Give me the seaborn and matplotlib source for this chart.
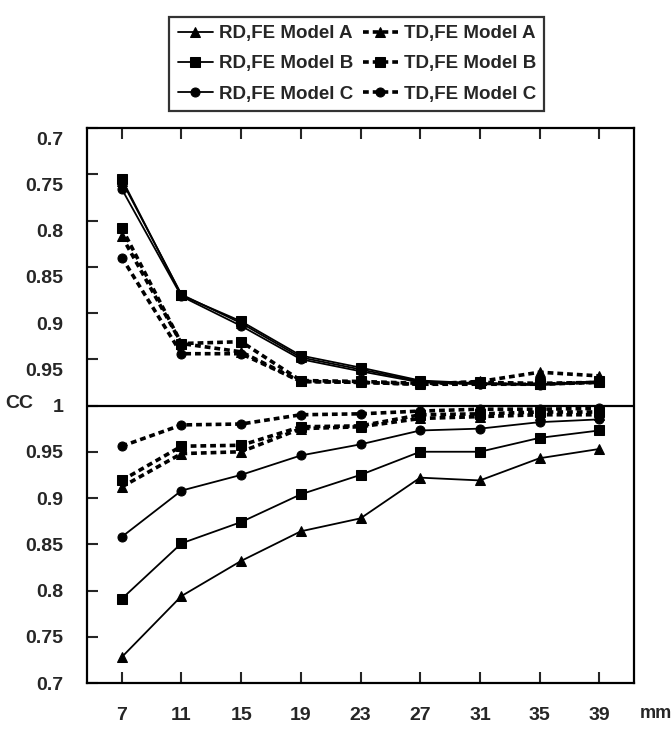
import numpy as np
import matplotlib
matplotlib.use('Agg')
import matplotlib.pyplot as plt
import matplotlib.transforms as mtransforms
import seaborn as sns

# x positions (mm)
mm = [7, 11, 15, 19, 23, 27, 31, 35, 39]

# upper panel (axis runs 0.7 at the top down to 1 at the middle)
rd_a_up = [0.757, 0.880, 0.911, 0.948, 0.961, 0.974, 0.976, 0.977, 0.974]
rd_b_up = [0.755, 0.881, 0.909, 0.946, 0.959, 0.973, 0.976, 0.977, 0.974]
rd_c_up = [0.766, 0.882, 0.914, 0.950, 0.963, 0.975, 0.977, 0.978, 0.975]
td_a_up = [0.817, 0.933, 0.942, 0.974, 0.975, 0.977, 0.974, 0.964, 0.968]
td_b_up = [0.808, 0.933, 0.931, 0.973, 0.974, 0.976, 0.975, 0.976, 0.975]
td_c_up = [0.840, 0.944, 0.944, 0.974, 0.975, 0.977, 0.977, 0.977, 0.975]

# lower panel (1 at the middle down to 0.7 at the bottom)
rd_a_lo = [0.728, 0.794, 0.832, 0.864, 0.878, 0.922, 0.919, 0.943, 0.953]
rd_b_lo = [0.791, 0.851, 0.874, 0.904, 0.925, 0.950, 0.950, 0.965, 0.973]
rd_c_lo = [0.858, 0.908, 0.925, 0.946, 0.958, 0.973, 0.975, 0.982, 0.985]
td_a_lo = [0.912, 0.948, 0.950, 0.975, 0.977, 0.986, 0.988, 0.990, 0.990]
td_b_lo = [0.919, 0.956, 0.957, 0.977, 0.978, 0.990, 0.991, 0.993, 0.993]
td_c_lo = [0.956, 0.979, 0.980, 0.990, 0.991, 0.994, 0.996, 0.996, 0.997]

series = [
    ('RD,FE Model A', rd_a_up, rd_a_lo, '^', 'solid'),
    ('TD,FE Model A', td_a_up, td_a_lo, '^', 'dashed'),
    ('RD,FE Model B', rd_b_up, rd_b_lo, 's', 'solid'),
    ('TD,FE Model B', td_b_up, td_b_lo, 's', 'dashed'),
    ('RD,FE Model C', rd_c_up, rd_c_lo, 'o', 'solid'),
    ('TD,FE Model C', td_c_up, td_c_lo, 'o', 'dashed'),
]

sns.set_style('white')
plt.rcParams['font.family'] = ['Liberation Sans', 'DejaVu Sans']
plt.rcParams['font.weight'] = 'bold'

fig = plt.figure(figsize=(6.72, 7.29), dpi=100)
ax = fig.add_axes([0.1295, 0.0631, 0.814, 0.7613])

dash_style = (0, (1.6, 1.1))
for label, up, lo, mk, kind in series:
    up = np.asarray(up)
    lo = np.asarray(lo)
    if kind == 'solid':
        kw = dict(color='black', linewidth=1.3, linestyle='-')
    else:
        kw = dict(color='black', linewidth=2.6, linestyle=dash_style)
    ms = 7.5 if mk == '^' else 6.5
    # upper panel is mirrored around 1
    sns.lineplot(x=mm, y=2 - up, ax=ax, marker=mk, markersize=ms,
                 markeredgecolor='black', markerfacecolor='black', label=label, **kw)
    sns.lineplot(x=mm, y=lo, ax=ax, marker=mk, markersize=ms,
                 markeredgecolor='black', markerfacecolor='black', **kw)

ax.axhline(1.0, color='black', linewidth=1.6)

ax.set_xlim(4.67, 41.33)
ax.set_ylim(0.7, 1.3)
ax.set_xticks(mm)
ax.set_xticklabels([str(m) for m in mm])

yt = [0.7, 0.75, 0.8, 0.85, 0.9, 0.95, 1.0, 1.05, 1.1, 1.15, 1.2, 1.25, 1.3]
ylab = []
for t in yt:
    v = t if t <= 1.0 else round(2 - t, 2)
    ylab.append(f'{v:g}')
ax.set_yticks(yt)
ax.set_yticklabels(ylab)

ax.tick_params(axis='x', direction='in', top=True, bottom=True, length=8, width=1.5,
               pad=17, labelsize=14)
ax.tick_params(axis='y', direction='in', left=True, right=False, length=8, width=1.5,
               pad=17, labelsize=14)

# upper tick labels sit a little lower than their ticks in the original
shift = mtransforms.ScaledTranslation(0, -0.1, fig.dpi_scale_trans)
for t, lab in zip(yt, ax.get_yticklabels()):
    if t > 1.0:
        lab.set_transform(lab.get_transform() + shift)

for sp in ax.spines.values():
    sp.set_linewidth(1.6)
    sp.set_color('black')

ax.set_xlabel('')
ax.set_ylabel('')
fig.text(0.008, 1 - 403 / 729, 'CC', fontsize=14, fontweight='bold', va='center', ha='left')
fig.text(0.952, 1 - 713 / 729, 'mm', fontsize=13, fontweight='bold', va='center', ha='left')

handles, labels = ax.get_legend_handles_labels()
ax.get_legend().remove()
order = [0, 2, 4, 1, 3, 5]
leg = fig.legend([handles[i] for i in order], [labels[i] for i in order],
                 loc='upper center', bbox_to_anchor=(0.531, 0.99), ncol=2,
                 frameon=True, fancybox=False, edgecolor='black',
                 prop={'size': 13.5, 'weight': 'bold'},
                 handlelength=1.9, handletextpad=0.3, columnspacing=0.5,
                 labelspacing=0.7, borderpad=0.45)
leg.get_frame().set_linewidth(1.6)

fig.savefig('out.png', dpi=100)
